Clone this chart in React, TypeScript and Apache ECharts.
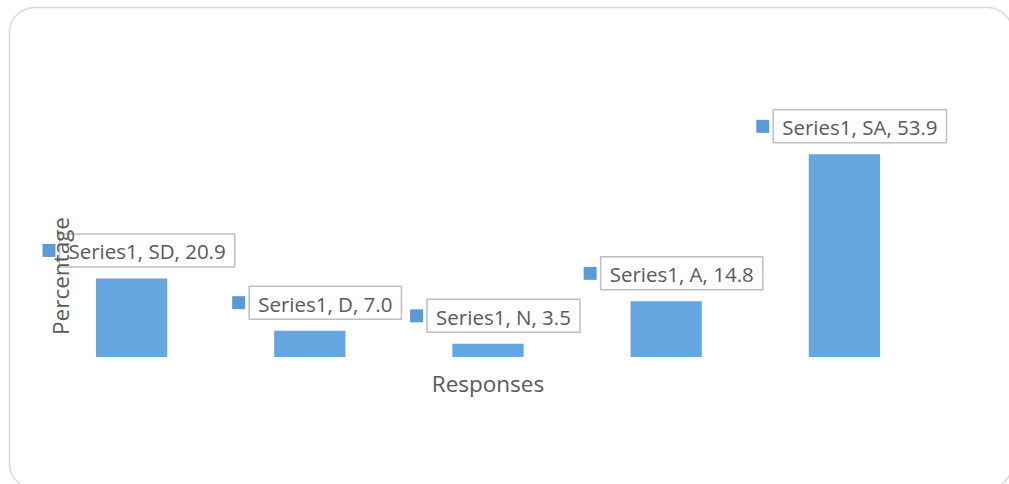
import React, { useEffect, useRef } from "react";
import * as echarts from "echarts";

const categories = ["SD", "D", "N", "A", "SA"];
const values = [20.9, 7.0, 3.5, 14.8, 53.9];
const seriesName = "Series1";
const xTitle = "Responses";
const yTitle = "Percentage";

export default function App() {
  const ref = useRef<HTMLDivElement>(null);
  useEffect(() => {
    if (!ref.current) return;
    const chart = echarts.init(ref.current, undefined, { renderer: "svg" });
    const font = "'Open Sans', 'Noto Sans', sans-serif";
    chart.setOption({
      animation: false,
      backgroundColor: "#ffffff",
      graphic: [
        {
          type: "rect",
          shape: { x: 9.5, y: 7.5, width: 1003, height: 481, r: 25 },
          style: { fill: "none", stroke: "#D9D9D9", lineWidth: 1.5 },
          silent: true,
        },
        {
          type: "text",
          x: 60,
          y: 276,
          z: 100,
          rotation: Math.PI / 2,
          style: {
            text: yTitle,
            fill: "#595959",
            fontFamily: font,
            fontSize: 22.5,
            align: "center",
            verticalAlign: "middle",
          },
        },
      ],
      grid: { left: 42.5, right: 75.5, top: 131.4, bottom: 127, containLabel: false },
      xAxis: {
        type: "category",
        data: categories,
        axisLine: { show: false },
        axisTick: { show: false },
        axisLabel: { show: false },
        name: xTitle,
        nameLocation: "middle",
        nameGap: 15,
        nameTextStyle: {
          color: "#595959",
          fontSize: 22.5,
          fontFamily: font,
          verticalAlign: "top",
        },
      },
      yAxis: {
        type: "value",
        min: 0,
        max: 60,
        show: false,
        splitLine: { show: false },
      },
      series: [
        {
          name: seriesName,
          type: "bar",
          data: values,
          barWidth: "40%",
          itemStyle: { color: "#65A5E0" },
          label: {
            show: true,
            position: "top",
            distance: 16,
            offset: [7, 0],
            formatter: (p: any) =>
              `{m|}{g|}{t|${p.seriesName}, ${p.name}, ${Number(p.value).toFixed(1)}}`,
            rich: {
              m: { width: 13, height: 13, backgroundColor: "#5B9BD5", verticalAlign: "middle" },
              g: { width: 4, height: 13 },
              t: {
                color: "#595959",
                fontSize: 20.5,
                fontFamily: font,
                lineHeight: 24,
                padding: [7, 9, 5, 9],
                borderColor: "#BFBFBF",
                borderWidth: 1.5,
              },
            },
          },
        },
      ],
    });
    return () => chart.dispose();
  }, []);
  return (
    <div
      ref={ref}
      style={{ position: "fixed", left: 0, top: 0, width: 1009, height: 484 }}
    />
  );
}
